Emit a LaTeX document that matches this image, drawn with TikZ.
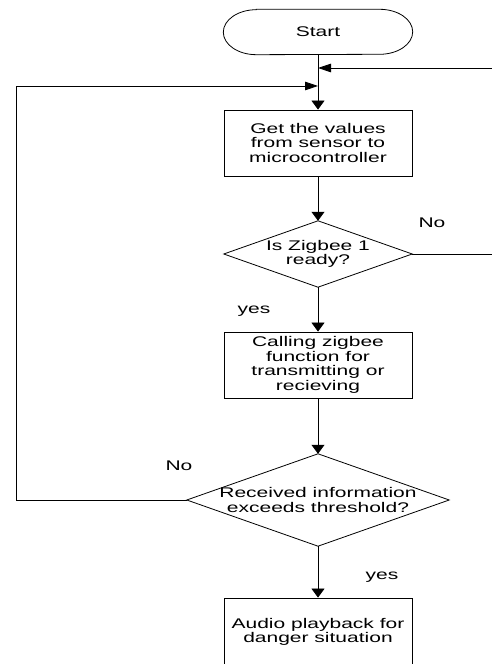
\documentclass[tikz,border=0pt]{standalone}
\usepackage{fontspec}
\setmainfont{Liberation Sans}[FakeStretch=1.5]
\usetikzlibrary{arrows.meta}
\begin{document}
\begin{tikzpicture}[x=1pt,y=1pt,
  every node/.style={font=\fontsize{14pt}{14.7pt}\selectfont, inner sep=0pt, align=center},
  line/.style={line width=0.8pt, draw=black},
  down/.style={line, -{Triangle[length=9pt,width=13pt]}},
  side/.style={line, -{Triangle[length=13pt,width=8.5pt]}},
  procbox/.style={draw, line width=0.8pt, minimum width=188pt, minimum height=66pt},
  lbl/.style={anchor=base}
]
\useasboundingbox (0,0) rectangle (492,664);
\clip (0,0) rectangle (492,664);

% start terminator
\node[minimum width=189pt, minimum height=45pt] (start) at (318,632) {Start};
\draw[line] ([xshift=33pt]start.north west) -- ([xshift=-33pt]start.north east)
  arc[start angle=90,end angle=-90,x radius=33pt,y radius=22.5pt]
  -- ([xshift=33pt]start.south west)
  arc[start angle=270,end angle=90,x radius=33pt,y radius=22.5pt] -- cycle;

\node[procbox] (get) at (318,521) {Get the values\\from sensor to\\microcontroller};

\node[minimum width=188pt, minimum height=66pt] (zb) at (318,410) {Is Zigbee 1\\ready?};
\draw[line] (zb.north) -- (zb.east) -- (zb.south) -- (zb.west) -- cycle;

\node[procbox] (call) at (318,299) {Calling zigbee\\function for\\transmitting or\\recieving};

\node[minimum width=262pt, minimum height=92pt] (thr) at (318,164) {Received information\\exceeds threshold?};
\draw[line] (thr.north) -- (thr.east) -- (thr.south) -- (thr.west) -- cycle;

\node[procbox, minimum height=68pt] (audio) at (318,32) {Audio playback for\\danger situation};

% junction points on the main line
\coordinate (jr) at (318,596);
\coordinate (jl) at (318,578);
\coordinate (rin) at (492,596);
\coordinate (rout) at (492,410);
\coordinate (lt) at (16,578);

% connectors
\draw[down] (start.south) -- (get.north);
\draw[side] (rin) -- (jr);
\draw[side] (thr.west) -| (lt) -- (jl);
\draw[down] (get.south) -- (zb.north);
\draw[line] (zb.east) -- (rout);
\draw[down] (zb.south) -- (call.north);
\draw[down] (call.south) -- (thr.north);
\draw[down] (thr.south) -- (audio.north);

% labels
\node[lbl] (no1) at (432,436.5) {No};
\node[lbl] (yes1) at (254,350.7) {yes};
\node[lbl] (no2) at (179,193) {No};
\node[lbl] (yes2) at (382,84) {yes};
\end{tikzpicture}
\end{document}
